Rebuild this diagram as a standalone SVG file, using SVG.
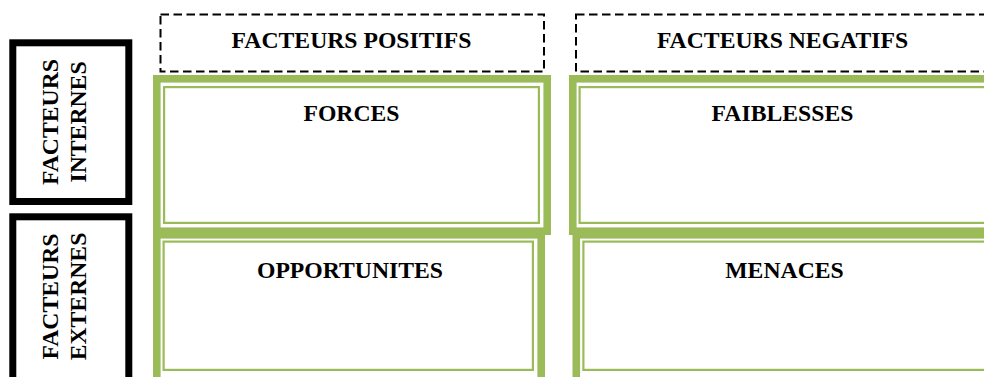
<svg xmlns="http://www.w3.org/2000/svg" width="984" height="377" viewBox="0 0 984 377">
<style>
.lbl{font-family:"Liberation Serif","Times New Roman",serif;font-weight:bold;font-size:23.7px;fill:#000;text-anchor:middle}
.thick{fill:none;stroke:#9BBB59;stroke-width:7.6}
.thin{fill:none;stroke:#9BBB59;stroke-width:2.2}
.dash{fill:none;stroke:#000;stroke-width:2;stroke-dasharray:8.5 4.5}
.side{fill:#fff;stroke:#000;stroke-width:7}
</style>
<rect width="984" height="377" fill="#fff"/>
<g id="side-internes">
<rect class="side" x="12.8" y="42.8" width="116" height="158.7"/>
<text class="lbl" transform="translate(57.8,122) rotate(-90)">FACTEURS</text>
<text class="lbl" transform="translate(86.3,122) rotate(-90)">INTERNES</text>
</g>
<g id="side-externes">
<rect class="side" x="12.8" y="216.8" width="116" height="170"/>
<text class="lbl" transform="translate(57.8,296.5) rotate(-90)">FACTEURS</text>
<text class="lbl" transform="translate(86.3,296.5) rotate(-90)">EXTERNES</text>
</g>
<g id="head-positifs">
<rect class="dash" x="160.5" y="14.5" width="383.5" height="57"/>
<text class="lbl" x="351.5" y="48.3">FACTEURS POSITIFS</text>
</g>
<g id="head-negatifs">
<rect class="dash" x="576" y="14.5" width="420" height="57"/>
<text class="lbl" x="782.5" y="48.3">FACTEURS NEGATIFS</text>
</g>
<g id="cell-forces">
<rect class="thick" x="156.8" y="78.8" width="390.4" height="152.4"/>
<rect class="thin" x="164.1" y="87.1" width="374.8" height="135.8"/>
<text class="lbl" x="351.5" y="120.7">FORCES</text>
</g>
<g id="cell-faiblesses">
<rect class="thick" x="572.8" y="78.8" width="430" height="152.4"/>
<rect class="thin" x="579.6" y="87.1" width="420" height="135.8"/>
<text class="lbl" x="782.5" y="120.7">FAIBLESSES</text>
</g>
<g id="cell-opportunites">
<rect class="thick" x="156.8" y="234.8" width="384.4" height="150"/>
<rect class="thin" x="163.6" y="241.6" width="369.3" height="128.3"/>
<text class="lbl" x="350" y="277.5">OPPORTUNITES</text>
</g>
<g id="cell-menaces">
<rect class="thick" x="576.3" y="234.8" width="430" height="150"/>
<rect class="thin" x="583.4" y="241.6" width="420" height="128.3"/>
<text class="lbl" x="784.5" y="277.5">MENACES</text>
</g>
<g id="connectors"/>
</svg>
